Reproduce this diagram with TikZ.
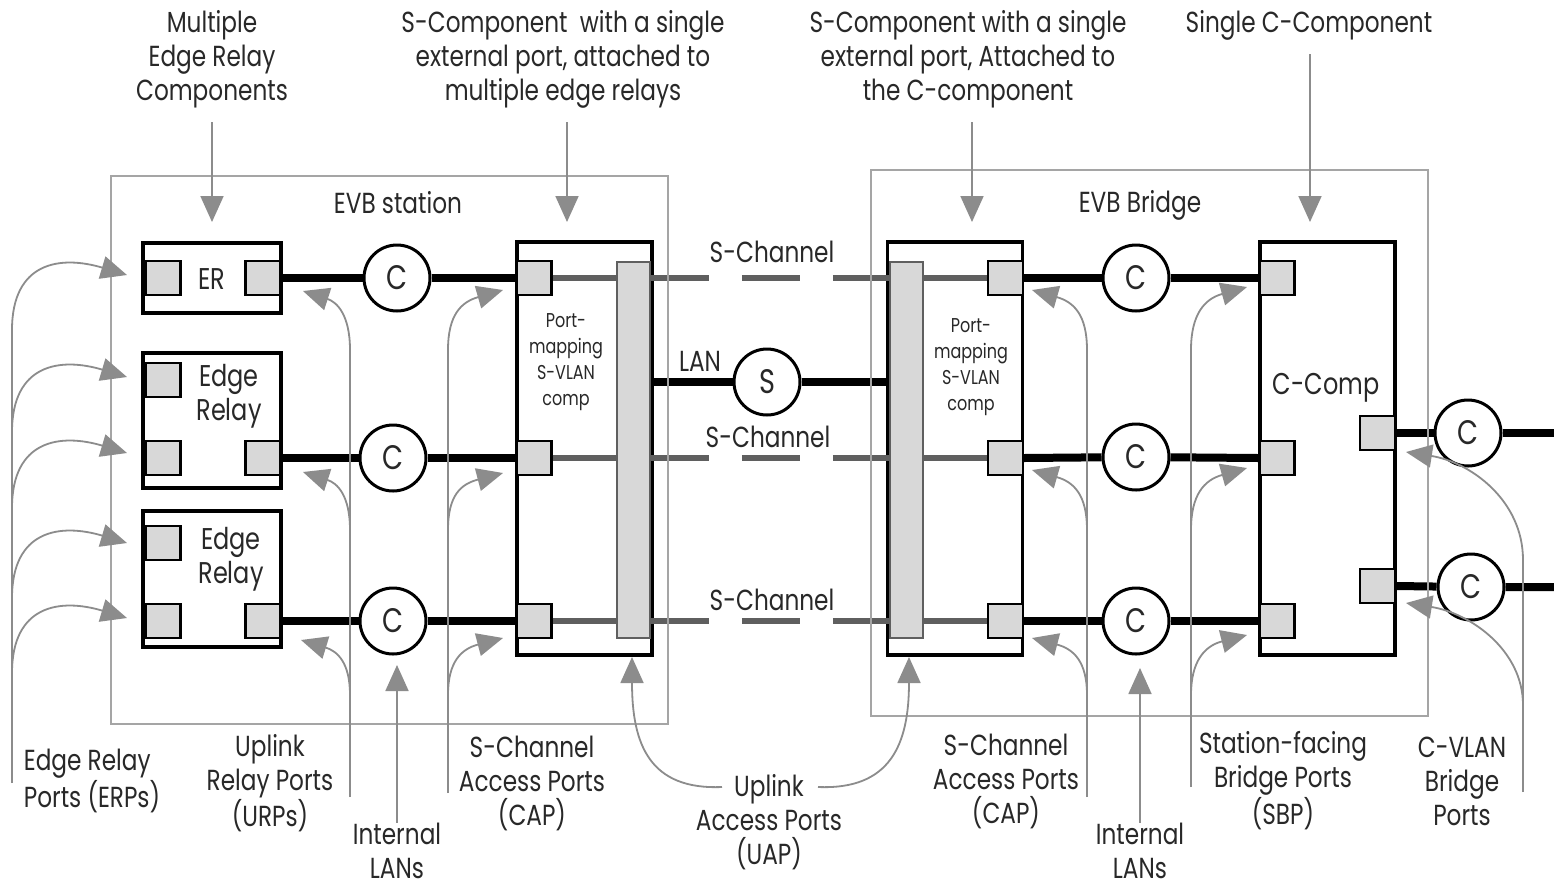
\documentclass[tikz,border=0pt]{standalone}
\usepackage{fontspec}
\setmainfont[FakeStretch=0.8]{Poppins}
\usetikzlibrary{arrows.meta,calc}
\definecolor{anngray}{RGB}{140,140,140}
\definecolor{portgray}{RGB}{216,216,216}
\definecolor{changray}{RGB}{95,95,95}
\definecolor{boxgray}{RGB}{165,165,165}
\definecolor{txtcol}{RGB}{40,40,40}
\newcommand\labfont{\fontsize{14.5}{17}\selectfont}
\newcommand\smallfont{\fontsize{10}{13}\selectfont}
\newcommand\circfont{\fontsize{17}{17}\selectfont}
\begin{document}
\begin{tikzpicture}[x=0.5pt,y=-0.5pt,
  lab/.style={font=\labfont, align=center, inner sep=0pt, text=txtcol},
  port/.style={draw=black, line width=1.1pt, fill=portgray, minimum width=17.5pt, minimum height=17pt, inner sep=0pt},
  relaybox/.style={draw=black, line width=1.8pt, fill=white, minimum width=69pt, inner sep=0pt},
  compbox/.style={draw=black, line width=1.8pt, fill=white, minimum width=67.5pt, minimum height=206.5pt, inner sep=0pt},
  barbox/.style={draw=changray, line width=0.9pt, fill=portgray, minimum width=16.5pt, minimum height=188pt, inner sep=0pt},
  cnode/.style={circle, draw=black, line width=1.5pt, fill=white, minimum size=33pt, inner sep=0pt, font=\circfont, text=txtcol},
  link/.style={line width=4pt, draw=black},
  chan/.style={line width=3pt, draw=changray},
  ann/.style={draw=anngray, line width=0.9pt},
  annarrow/.style={ann, -{Triangle[length=13pt,width=11.5pt]}},
  evb/.style={draw=boxgray, line width=1pt, inner sep=0pt},
]
\fill[white] (0,0) rectangle (1554,890);
\useasboundingbox (0,0) rectangle (1554,890);

% ---------------- relay boxes -----------------
\node[relaybox, minimum height=35pt] (er1) at (212,278) {};
\node[relaybox, minimum height=67.5pt] (er2) at (212,420.5) {};
\node[relaybox, minimum height=68pt] (er3) at (212,579) {};
\node[lab, font=\fontsize{15}{17}\selectfont] at (212,279) {ER};
\node[lab, font=\fontsize{15}{17}\selectfont] at (229,396) {Edge\\Relay};
\node[lab, font=\fontsize{15}{17}\selectfont] at (231,559) {Edge\\Relay};
\node[port] (er1L) at (163,278) {};
\node[port] (er1R) at (263,278) {};
\node[port] (er2TL) at (163,380) {};
\node[port] (er2BL) at (163,458) {};
\node[port] (er2BR) at (263,458) {};
\node[port] (er3TL) at (163,543) {};
\node[port] (er3BL) at (163,621) {};
\node[port] (er3BR) at (263,621) {};

% ---------------- left S-component -----------------
\node[compbox] (lcomp) at (584.5,448.5) {};
\node[barbox] (lbar) at (633.5,450) {};
\node[port] (lcap1) at (534,278) {};
\node[port] (lcap2) at (534,458) {};
\node[port] (lcap3) at (534,621) {};
\node[lab, font=\smallfont] at (566,362) {Port-\\mapping\\S-VLAN\\comp};

% ---------------- right S-component -----------------
\node[compbox] (rcomp) at (955,448.5) {};
\node[barbox] (rbar) at (906.5,450) {};
\node[port] (rcap1) at (1005.5,278) {};
\node[port] (rcap2) at (1005.5,458) {};
\node[port] (rcap3) at (1005.5,621) {};
\node[lab, font=\smallfont] at (971,367) {Port-\\mapping\\S-VLAN\\comp};

% ---------------- C component -----------------
\node[compbox] (ccomp) at (1327.5,448.5) {};
\node[lab, font=\fontsize{15}{17}\selectfont] at (1326,388) {C-Comp};
\node[port] (sbp1) at (1277,278) {};
\node[port] (sbp2) at (1277,458) {};
\node[port] (sbp3) at (1277,621) {};
\node[port] (cvp1) at (1377.5,433) {};
\node[port] (cvp2) at (1377.5,586) {};

% ---------------- circles -----------------
\node[cnode] (c1) at (397,278) {C};
\node[cnode] (c2) at (393,458) {C};
\node[cnode] (c3) at (393,621) {C};
\node[cnode] (s1) at (767,382) {S};
\node[cnode] (c4) at (1136,278) {C};
\node[cnode] (c5) at (1136,457) {C};
\node[cnode] (c6) at (1136,621) {C};
\node[cnode] (c7) at (1468,433) {C};
\node[cnode] (c8) at (1471,587) {C};
\coordinate (end1) at (1554,433);
\coordinate (end2) at (1554,587);

% ---------------- links -----------------
\draw[link] (er1R.east) -- (c1) -- (lcap1.west);
\draw[link] (er2BR.east) -- (c2) -- (lcap2.west);
\draw[link] (er3BR.east) -- (c3) -- (lcap3.west);
\draw[link] (rcap1.east) -- (c4) -- (sbp1.west);
\draw[link] (rcap2.east) -- (c5) -- (sbp2.west);
\draw[link] (rcap3.east) -- (c6) -- (sbp3.west);
\draw[link] (cvp1.east) -- (c7) -- (end1);
\draw[link] (cvp2.east) -- (c8) -- (end2);
\draw[link] (lcomp.east |- s1) -- (s1) -- (rcomp.west |- s1);
\node[lab] at (700,361) {LAN};

% ---------------- S-channels -----------------
\foreach \r in {1,2,3}{
  \draw[chan] (lcap\r.east) -- (lcap\r -| lbar.west);
  \draw[chan, dash pattern=on 29pt off 16.5pt] (lcap\r -| lbar.east) -- (lcap\r -| rbar.west);
  \draw[chan] (lcap\r -| rbar.east) -- (rcap\r.west);
}
\node[lab] at (772,252) {S-Channel};
\node[lab] at (768,437) {S-Channel};
\node[lab] at (772,600) {S-Channel};

% ---------------- EVB boxes -----------------
\node[evb, minimum width=278.5pt, minimum height=274pt] (station) at (389.5,450) {};
\node[evb, minimum width=278.5pt, minimum height=273pt] (bridge) at (1149.5,443) {};
\node[lab] at (398,203) {EVB station};
\node[lab] at (1140,205) {EVB Bridge};

% ---------------- top labels -----------------
\node[lab] (topA) at (212,59) {Multiple\\Edge Relay\\Components};
\node[lab] (topB) at (563,59) {S-Component\ \ with a single\\external port, attached to\\multiple edge relays};
\node[lab] (topC) at (968,59) {S-Component with a single\\external port, Attached to\\the C-component};
\node[lab] (topD) at (1309,25) {Single C-Component};
\coordinate (tA) at (212,222);
\coordinate (tB) at (567,222);
\coordinate (tC) at (972,222);
\coordinate (tD) at (1310,222);
\draw[annarrow, shorten <=7pt] (tA |- topA.south) -- (tA);
\draw[annarrow, shorten <=7pt] (tB |- topB.south) -- (tB);
\draw[annarrow, shorten <=7pt] (tC |- topC.south) -- (tC);
\draw[annarrow, shorten <=7pt] (tD |- topD.south) -- (tD);

% ---------------- bottom labels -----------------
\node[lab, align=left] (erp) at (92,781) {Edge Relay\\Ports (ERPs)};
\node[lab] (urp) at (270,783) {Uplink\\Relay Ports\\(URPs)};
\node[lab] (ilan1) at (397,851) {Internal\\LANs};
\node[lab] (capL) at (532,783) {S-Channel\\Access Ports\\(CAP)};
\node[lab] (uap) at (769,822) {Uplink\\Access Ports\\(UAP)};
\node[lab] (capR) at (1006,781) {S-Channel\\Access Ports\\(CAP)};
\node[lab] (ilan2) at (1140,851) {Internal\\LANs};
\node[lab] (sbp) at (1283,781) {Station-facing\\Bridge Ports\\(SBP)};
\node[lab] (cvlan) at (1462,781) {C-VLAN\\Bridge\\Ports};

% ERP arrows
\coordinate (e1) at (127,275);
\coordinate (e2) at (127,377);
\coordinate (e3) at (127,453);
\coordinate (e4) at (127,543);
\coordinate (e5) at (127,618);
\draw[ann] (12,783) -- (12,330);
\draw[annarrow] (12,330) .. controls (12,262) and (60,255) .. (e1);
\draw[annarrow] (12,432) .. controls (12,364) and (60,357) .. (e2);
\draw[annarrow] (12,508) .. controls (12,440) and (60,433) .. (e3);
\draw[annarrow] (12,598) .. controls (12,530) and (60,523) .. (e4);
\draw[annarrow] (12,673) .. controls (12,605) and (60,598) .. (e5);

% URP arrows
\coordinate (u1) at (303,291);
\coordinate (u2) at (303,472);
\coordinate (u3) at (301,640);
\draw[ann] (350,797) -- (350,350);
\draw[annarrow] (350,350) .. controls (350,315) and (337,302) .. (u1);
\draw[annarrow] (350,530) .. controls (350,495) and (337,483) .. (u2);
\draw[annarrow] (350,695) .. controls (350,662) and (337,651) .. (u3);

% CAP left arrows
\coordinate (cl1) at (503,290);
\coordinate (cl2) at (503,473);
\coordinate (cl3) at (503,638);
\draw[ann] (448,793) -- (448,350);
\draw[annarrow] (448,350) .. controls (448,315) and (461,302) .. (cl1);
\draw[annarrow] (448,530) .. controls (448,495) and (461,484) .. (cl2);
\draw[annarrow] (448,695) .. controls (448,662) and (461,649) .. (cl3);

% Internal LANs
\coordinate (il1) at (397,665);
\coordinate (il2) at (1140,668);
\draw[annarrow] (ilan1.north) -- (il1);
\draw[annarrow] (ilan2.north) -- (il2);

% UAP arrows
\coordinate (uapL) at (722,787);
\coordinate (uapR) at (818,787);
\coordinate (ua1) at (632,657);
\coordinate (ua2) at (909,657);
\draw[annarrow] (uapL) .. controls (650,790) and (632,745) .. (ua1);
\draw[annarrow] (uapR) .. controls (890,790) and (909,745) .. (ua2);

% CAP right arrows
\coordinate (cr1) at (1032,290);
\coordinate (cr2) at (1032,470);
\coordinate (cr3) at (1032,638);
\draw[ann] (1087,797) -- (1087,350);
\draw[annarrow] (1087,350) .. controls (1087,315) and (1074,302) .. (cr1);
\draw[annarrow] (1087,530) .. controls (1087,495) and (1074,482) .. (cr2);
\draw[annarrow] (1087,695) .. controls (1087,662) and (1074,649) .. (cr3);

% SBP arrows
\coordinate (sb1) at (1247,287);
\coordinate (sb2) at (1247,468);
\coordinate (sb3) at (1247,635);
\draw[ann] (1191,787) -- (1191,350);
\draw[annarrow] (1191,350) .. controls (1191,315) and (1204,299) .. (sb1);
\draw[annarrow] (1191,530) .. controls (1191,495) and (1204,480) .. (sb2);
\draw[annarrow] (1191,695) .. controls (1191,662) and (1204,646) .. (sb3);

% C-VLAN arrows
\coordinate (v1) at (1406,452);
\coordinate (v2) at (1406,603);
\draw[ann] (1523,792) -- (1523,560);
\draw[annarrow] (1523,560) .. controls (1523,500) and (1470,462) .. (v1);
\draw[annarrow] (1523,705) .. controls (1523,650) and (1470,613) .. (v2);
\end{tikzpicture}
\end{document}
